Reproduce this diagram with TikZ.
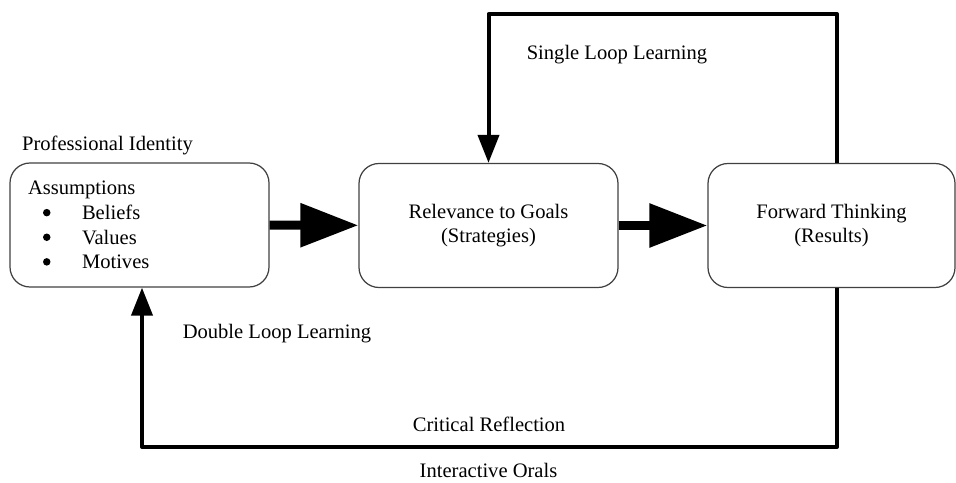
\documentclass[tikz,border=0pt]{standalone}
\usepackage{fontspec}
\setmainfont{Liberation Serif}
\usepackage{tikz}
\usetikzlibrary{arrows.meta}
\newcommand\BItem[1]{\hspace*{0.3cm}\makebox[0.78cm][l]{\tikz[baseline=0pt]\fill (0,.135cm) circle (.075cm);}#1}
\tikzset{
  stage/.style={draw=black!75,line width=.7pt,rounded corners=.4cm,
    minimum height=2.48cm,inner sep=0pt,align=center},
  push/.style={line width=.18cm,-{Triangle[length=1.16cm,width=.84cm]}},
  loopline/.style={line width=.08cm,line join=round,
    -{Triangle[length=.56cm,width=.42cm]}}
}

\begin{document}
\begin{tikzpicture}[font=\fontsize{11.7pt}{14pt}\selectfont]
        \useasboundingbox (0,0) rectangle (19.12,9.64);
        \node[stage,minimum width=5.18cm,text width=4.46cm,align=left] (assume) at (2.79,5.14)
            {Assumptions\\ \BItem{Beliefs}\\ \BItem{Values}\\ \BItem{Motives}};
        \node[stage,minimum width=5.18cm] (relev) at (9.77,5.13) {Relevance to Goals\\(Strategies)};
        \node[stage,minimum width=4.94cm] (result) at (16.63,5.13) {Forward Thinking\\(Results)};
        \draw[push] (assume) -- (relev);
        \draw[push] (relev) -- (result);
        \coordinate (sl) at (16.74,9.36);
        \coordinate (dl) at (16.74,0.70);
        \draw[loopline] (result.north -| sl) -- (sl) -| (relev.north);
        \draw[loopline] (result.south -| dl) -- (dl) -| ([xshift=.05cm]assume.south);
        \node[anchor=base] (pid) at (2.15,6.63) {Professional Identity};
        \node[anchor=base] (sll) at (12.34,8.44) {Single Loop Learning};
        \node[anchor=base] (dll) at (5.54,2.87) {Double Loop Learning};
        \node[anchor=base] (crit) at (9.78,1.02) {Critical Reflection};
        \node[anchor=base] (oral) at (9.77,0.09) {Interactive Orals};
    \end{tikzpicture}
\end{document}
